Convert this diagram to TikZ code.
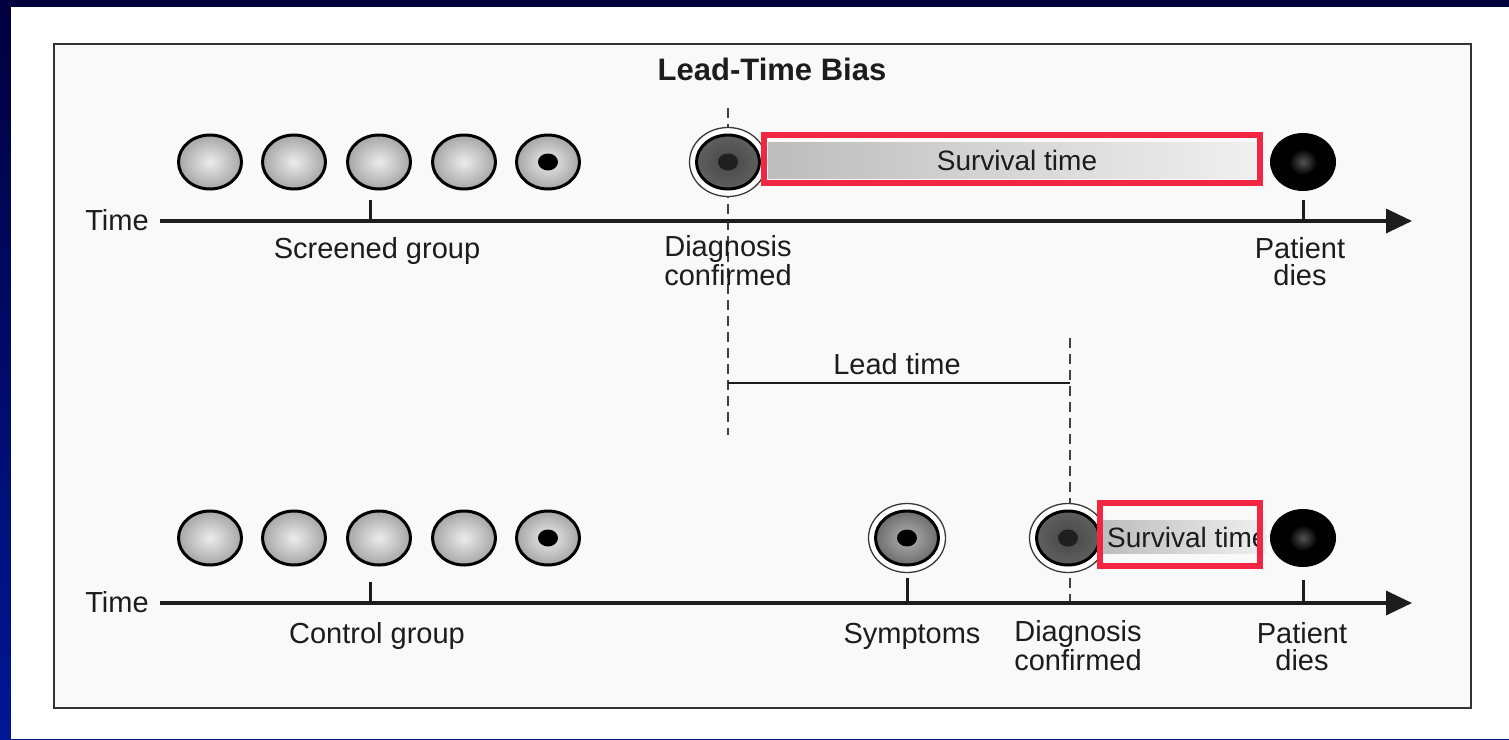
\documentclass[tikz,border=0pt]{standalone}
\usepackage{fontspec}
\setmainfont{Liberation Sans}
\usetikzlibrary{arrows.meta,positioning,shapes.geometric}
\definecolor{navy}{RGB}{0,0,62}
\definecolor{slideblue}{RGB}{0,22,150}
\definecolor{boxred}{RGB}{242,38,66}
\definecolor{ink}{RGB}{28,28,28}

\begin{document}
\begin{tikzpicture}[x=1pt,y=-1pt]
\tikzset{lbl/.style={text=ink,font=\fontsize{29}{27}\selectfont,inner sep=0pt,anchor=base,align=center}}
\tikzset{cell/.style={ellipse,draw=black,line width=3pt,minimum width=63pt,minimum height=54pt,inner sep=0pt,inner color=gray!15,outer color=gray!70}}
\tikzset{darkcell/.style={cell,inner color=gray!55!black,outer color=gray!75!black}}
\tikzset{nucleus/.style={ellipse,fill=black,minimum width=20pt,minimum height=17pt,inner sep=0pt}}
\tikzset{halo/.style={ellipse,draw=gray!45!black,line width=1.3pt,fill=white,minimum width=77pt,minimum height=69pt,inner sep=0pt}}
\tikzset{dead/.style={ellipse,fill=black,minimum width=66pt,minimum height=58pt,inner sep=0pt}}
\tikzset{deadcore/.style={ellipse,inner sep=0pt,minimum width=28pt,minimum height=26pt,inner color=gray!65!black,outer color=black}}
\tikzset{timeline/.style={draw=ink,line width=3.5pt,-{Triangle[length=26pt,width=24pt]}}}
\tikzset{tick/.style={draw=ink,line width=3pt}}
\tikzset{marker/.style={draw=gray!50!black,line width=2pt,dash pattern=on 10pt off 6pt}}
\tikzset{survtext/.style={inner sep=0pt,text=ink,font=\fontsize{28}{28}\selectfont}}
\tikzset{survbar/.style={survtext,left color=gray!52,right color=gray!12}}
\tikzset{redbox/.style={draw=boxred,line width=6pt,inner sep=0pt}}

% slide background and frame
\useasboundingbox (0,0) rectangle (1509,739);
\fill[top color=navy,bottom color=slideblue] (0,0) rectangle (1509,739);
\fill[white] (11,7) rectangle (1509,739);
\draw[draw=gray!40!black,line width=2pt,fill=gray!5] (54,44) rectangle (1471,708);

\node[text=ink,font=\fontsize{31}{31}\selectfont\bfseries,inner sep=0pt,anchor=base] (title) at (772,80) {Lead-Time Bias};

% dashed markers and lead time
\coordinate (d1a) at (728,108);
\coordinate (d1b) at (728,435);
\coordinate (d2a) at (1070,338);
\coordinate (d2b) at (1070,603);
\draw[marker] (d1a) -- (d1b);
\draw[marker] (d2a) -- (d2b);
\coordinate (lt1) at (728,383);
\coordinate (lt2) at (1070,383);
\draw[draw=ink,line width=1.6pt] (lt1) -- (lt2);
\node[lbl] (lead) at (897,374) {Lead time};

% time axes
\node[lbl] (time1) at (117,230) {Time};
\node[lbl] (time2) at (117,612) {Time};
\coordinate (ax1a) at (160,221);
\coordinate (ax1b) at (1412,221);
\coordinate (ax2a) at (160,603);
\coordinate (ax2b) at (1412,603);
\draw[timeline] (ax1a) -- (ax1b);
\draw[timeline] (ax2a) -- (ax2b);
\foreach \x/\y in {370/200,1303/200}
  \draw[tick] (\x,\y) -- (\x,221);
\foreach \x/\y in {370/582,907/578,1303/580}
  \draw[tick] (\x,\y) -- (\x,603);

% cells
\foreach \x [count=\i] in {210,294,379,464,548}{
  \node[cell] (s\i) at (\x,162) {};
  \node[cell] (c\i) at (\x,538) {};
}
\node[nucleus] (s5n) at (s5) {};
\node[nucleus] (c5n) at (c5) {};

\node[halo] (dg1h) at (728,162) {};
\node[darkcell] (dg1) at (728,162) {};
\node[nucleus,fill=black!88] (dg1n) at (dg1) {};

\node[halo] (sy2h) at (907,538) {};
\node[cell,inner color=gray!60,outer color=gray!85!black] (sy2) at (907,538) {};
\node[nucleus] (sy2n) at (sy2) {};

\node[halo] (dg2h) at (1068,538) {};
\node[darkcell] (dg2) at (1068,538) {};
\node[nucleus,fill=black!88] (dg2n) at (dg2) {};

\node[dead] (pd1) at (1303,162) {};
\node[deadcore] (pd1c) at (pd1) {};
\node[dead] (pd2) at (1303,538) {};
\node[deadcore] (pd2c) at (pd2) {};

% survival time
\node[survbar,minimum width=488pt,minimum height=36pt] (sv1) at (1012,160) {};
\node[survtext] (sv1t) at (1017,160) {Survival time};
\node[redbox,minimum width=496pt,minimum height=48pt] (rb1) at (1012,159) {};
\node[survbar,minimum width=164pt,minimum height=33pt] (sv2) at (1184,537) {};
\begin{scope}
  \clip (1100,500) rectangle (1256,570);
  \node[survtext,anchor=west] (sv2t) at (1107,537) {Survival time};
\end{scope}
\node[redbox,minimum width=160pt,minimum height=63pt] (rb2) at (1180,534.5) {};

% labels
\node[lbl] (scr) at (377,258) {Screened group};
\node[lbl] (dc1) at (728,285) {Diagnosis\\confirmed};
\node[lbl] (pl1) at (1300,285) {Patient\\dies};
\node[lbl] (ctl) at (377,643) {Control group};
\node[lbl] (sym) at (912,643) {Symptoms};
\node[lbl] (dc2) at (1078,670) {Diagnosis\\confirmed};
\node[lbl] (pl2) at (1302,670) {Patient\\dies};
\end{tikzpicture}
\end{document}
